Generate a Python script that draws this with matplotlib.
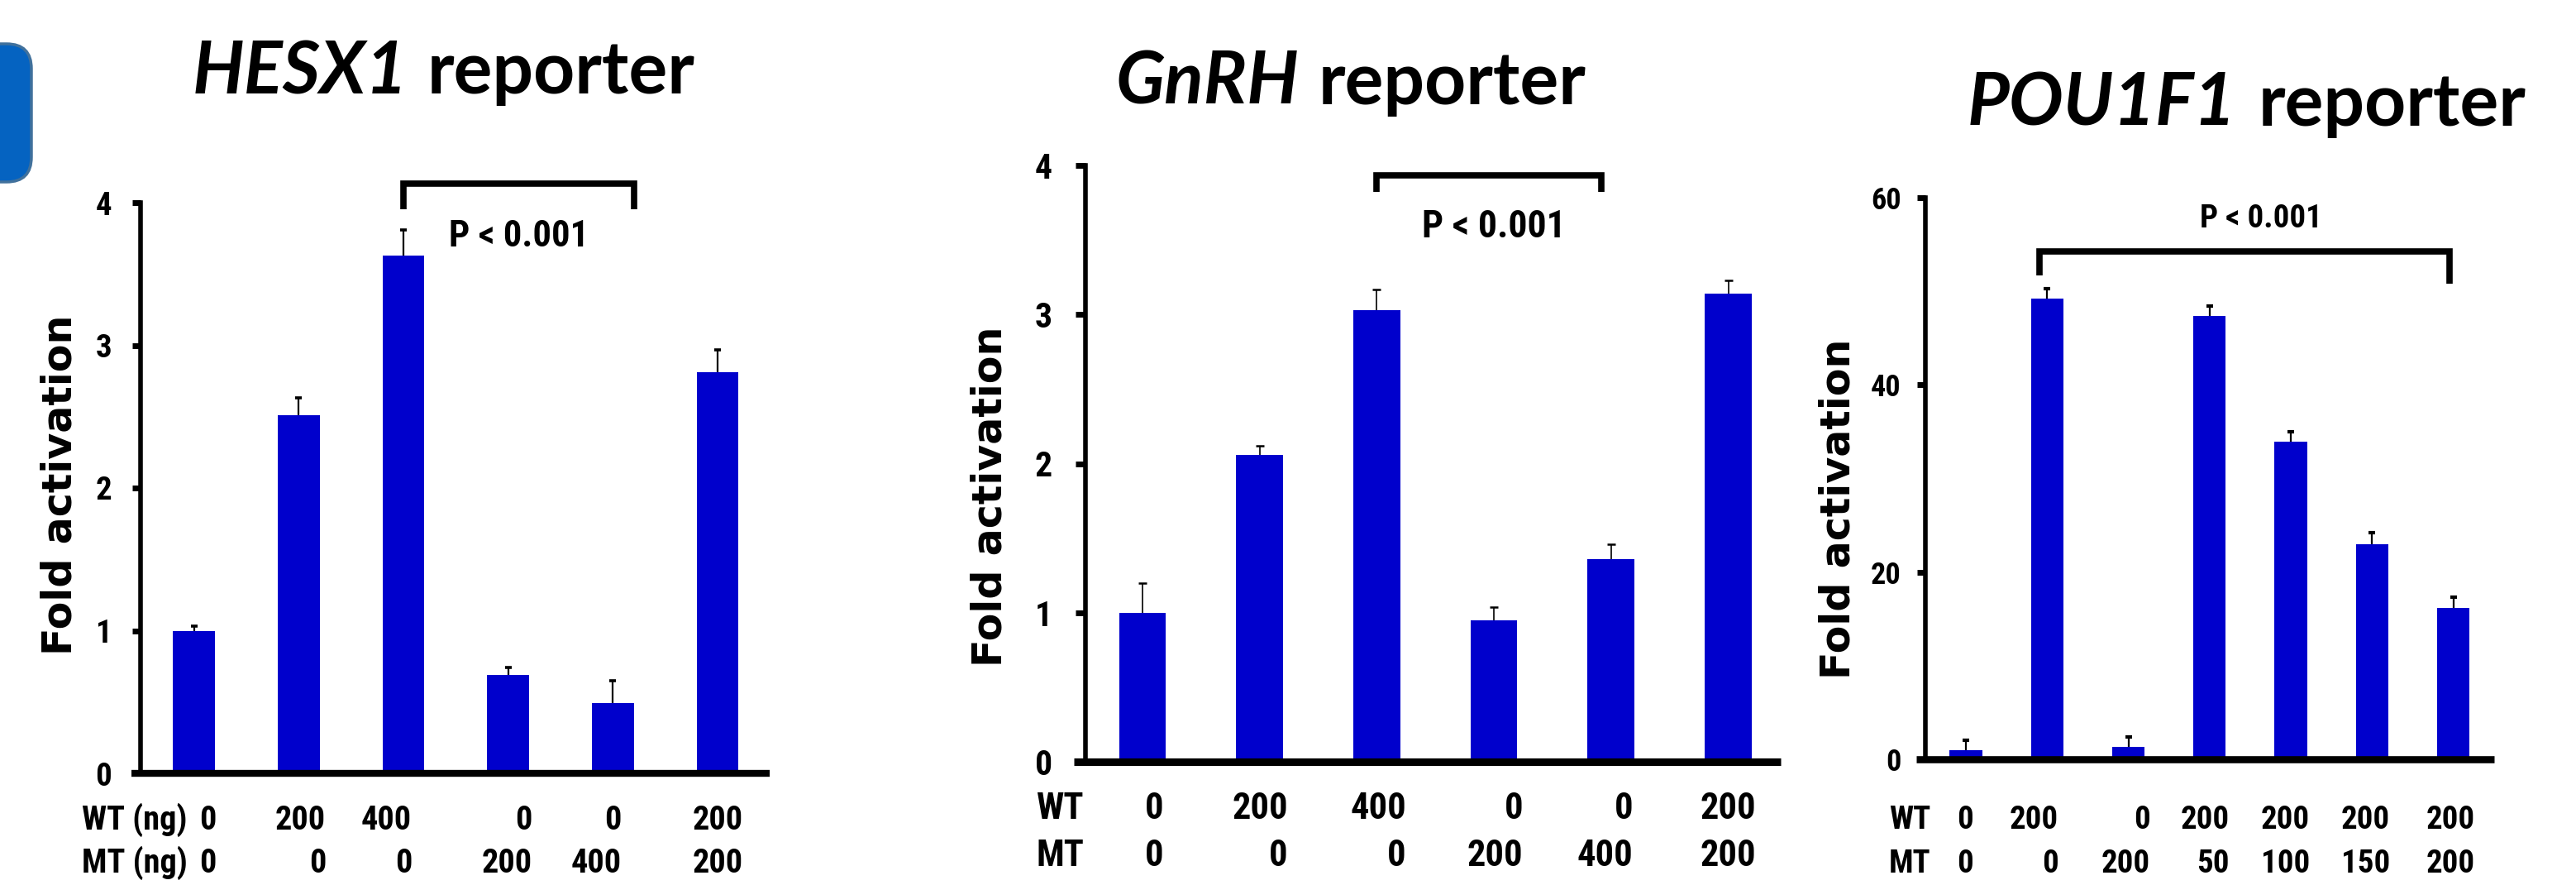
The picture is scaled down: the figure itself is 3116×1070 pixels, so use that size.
import os
import matplotlib
matplotlib.use("Agg")
import numpy as np
import matplotlib.pyplot as plt
from matplotlib import font_manager as fm
from matplotlib.font_manager import FontProperties
from matplotlib.patches import FancyBboxPatch
from matplotlib.transforms import IdentityTransform, blended_transform_factory

# ---------------- data ----------------
hesx1_values = [1.00, 2.51, 3.63, 0.69, 0.49, 2.81]
hesx1_errors = [0.03, 0.12, 0.18, 0.05, 0.16, 0.16]
hesx1_wt = ["0", "200", "400", "0", "0", "200"]
hesx1_mt = ["0", "0", "0", "200", "400", "200"]

gnrh_values = [1.00, 2.06, 3.03, 0.95, 1.36, 3.14]
gnrh_errors = [0.20, 0.06, 0.14, 0.09, 0.10, 0.09]
gnrh_wt = ["0", "200", "400", "0", "0", "200"]
gnrh_mt = ["0", "0", "0", "200", "400", "200"]

pou1f1_values = [1.0, 49.2, 1.3, 47.4, 33.9, 23.0, 16.2]
pou1f1_errors = [1.0, 1.1, 1.1, 1.0, 1.1, 1.2, 1.1]
pou1f1_wt = ["0", "200", "0", "200", "200", "200", "200"]
pou1f1_mt = ["0", "0", "200", "50", "100", "150", "200"]

titles_italic = ["HESX1", "GnRH", "POU1F1"]
title_rest = "reporter"
ylabel = "Fold activation"
p_text = "P < 0.001"

# ---------------- setup ----------------
W, H = 3116, 1070
fig = plt.figure(figsize=(W / 100, H / 100), dpi=100)
fig.patch.set_facecolor("white")

files = {}
for f in fm.fontManager.ttflist:
    files.setdefault(os.path.basename(f.fname).lower(), f.fname)

narrow_prefs = [
    ("liberationsansnarrow-bold.ttf", 1.0),
    ("robotocondensed-bold.ttf", 1.0),
    ("notosans-condensedbold.ttf", 1.0),
    ("opensans-condensedbold.ttf", 1.0),
    ("notosans-semicondensedbold.ttf", 0.97),
    ("opensans-semicondensedbold.ttf", 0.97),
    ("liberationsans-bold.ttf", 0.93),
]
NARROW_FILE, NS = None, 0.93
for fname, sc in narrow_prefs:
    if fname in files:
        NARROW_FILE, NS = files[fname], sc
        break


def nfp(size):
    if NARROW_FILE:
        return FontProperties(fname=NARROW_FILE, size=size * NS)
    return FontProperties(family="Liberation Sans", weight="bold", size=size * NS)


installed = {f.name for f in fm.fontManager.ttflist}
YLAB_FAM = ["DejaVu Sans Condensed", "DejaVu Sans"] if "DejaVu Sans Condensed" in installed else ["DejaVu Sans"]
TITLE_FAM = ["Lato", "DejaVu Sans"] if "Lato" in installed else ["DejaVu Sans"]

BLUE = "#0000cc"


def fx(px):
    return px / W


def fy(py):
    return 1 - py / H


# blue rounded tab at the left edge
tab = FancyBboxPatch((-120, H - 220), 158, 167,
                     boxstyle="round,pad=0,rounding_size=30",
                     transform=IdentityTransform(), facecolor="#0563c1",
                     edgecolor="#41719c", linewidth=2.5)
fig.add_artist(tab)

panels = [
    dict(values=hesx1_values, errors=hesx1_errors, wt=hesx1_wt, mt=hesx1_mt,
         wt_name="WT (ng)", mt_name="MT (ng)",
         L=170, T=245, R=931, B=935, c0=234.5, sp=126.7, line_start=159,
         ylim=(0, 4), yticks=[0, 1, 2, 3, 4],
         tick_len=7, tick_pad=18, tick_size=28,
         xline_lw=6.0, spine_lw=4.0,
         elw=1.6, cap_ms=6, cap_mew=2.6,
         lab_dx=[0.21, 0.26, 0.08, 0.23, 0.08, 0.245],
         lab_left=99, row_base=(1003, 1055), lab_size=29,
         br=(2.0, 4.20, 4.133, 3.954, 3.954),
         p_xy=(3.106, 3.69), p_size=32,
         title_split=(493, 517), title_base=113,
         ylab_xy=(73, 586)),
    dict(values=gnrh_values, errors=gnrh_errors, wt=gnrh_wt, mt=gnrh_mt,
         wt_name="WT", mt_name="MT",
         L=1313, T=200, R=2154, B=921, c0=1382, sp=141.7, line_start=1299,
         ylim=(0, 4), yticks=[0, 1, 2, 3, 4],
         tick_len=9, tick_pad=20, tick_size=30,
         xline_lw=6.6, spine_lw=4.0,
         elw=1.2, cap_ms=7, cap_mew=1.8,
         lab_dx=[0.18, 0.24, 0.25, 0.25, 0.185, 0.235],
         lab_left=1253, row_base=(990, 1047), lab_size=32,
         br=(2.0, 3.92, 3.933, 3.822, 3.822),
         p_xy=(3.0, 3.52), p_size=33,
         title_split=(1571, 1595), title_base=126,
         ylab_xy=(1197, 600)),
    dict(values=pou1f1_values, errors=pou1f1_errors, wt=pou1f1_wt, mt=pou1f1_mt,
         wt_name="WT", mt_name="MT",
         L=2329, T=239, R=3017, B=918, c0=2378, sp=98.25, line_start=2318,
         ylim=(0, 60), yticks=[0, 20, 40, 60],
         tick_len=7, tick_pad=14, tick_size=26,
         xline_lw=6.2, spine_lw=4.0,
         elw=1.6, cap_ms=6, cap_mew=3.0,
         lab_dx=[0.09, 0.14, 0.265, 0.245, 0.235, 0.22, 0.27],
         lab_left=2285, row_base=(1002, 1055), lab_size=28,
         br=(0.906, 5.95, 54.25, 51.7, 50.8),
         p_xy=(3.63, 56.8), p_size=28,
         title_split=(2705, 2732), title_base=152,
         ylab_xy=(2224, 615)),
]

renderer = fig.canvas.get_renderer()

for i, p in enumerate(panels):
    L, T, R, B = p["L"], p["T"], p["R"], p["B"]
    ax = fig.add_axes([fx(L), fy(B), fx(R - L), (B - T) / H])
    n = len(p["values"])
    x = np.arange(n)
    vals = np.array(p["values"])
    errs = np.array(p["errors"])

    ax.bar(x, vals, width=0.4, color=BLUE, zorder=1)
    tops = vals + errs
    ax.vlines(x, vals, tops, colors="black", lw=p["elw"], zorder=3)
    ax.plot(x, tops, ls="none", marker="_", ms=p["cap_ms"], mew=p["cap_mew"],
            color="black", zorder=3)

    xl = -(p["c0"] - L) / p["sp"]
    xr = (R - p["c0"]) / p["sp"]
    ax.set_xlim(xl, xr)
    ax.set_ylim(*p["ylim"])
    ax.set_xticks([])
    ax.set_yticks(p["yticks"])
    ax.set_yticklabels([str(t) for t in p["yticks"]])
    for lbl in ax.get_yticklabels():
        lbl.set_fontproperties(nfp(p["tick_size"]))
    ax.tick_params(axis="y", length=p["tick_len"], width=5, pad=p["tick_pad"],
                   direction="out", colors="black")
    for s in ["top", "right", "bottom"]:
        ax.spines[s].set_visible(False)
    ax.spines["left"].set_linewidth(p["spine_lw"])
    ax.patch.set_alpha(0)

    # thick x-axis line
    xmin_ax = -(L - p["line_start"]) / (R - L)
    ax.axhline(0, xmin=xmin_ax, xmax=1, color="black", lw=p["xline_lw"],
               clip_on=False, solid_capstyle="butt", zorder=4)

    # significance bracket
    bx1, bx2, byt, byl, byr = p["br"]
    ax.plot([bx1, bx1, bx2, bx2], [byl, byt, byt, byr], color="black", lw=5.5,
            clip_on=False, solid_joinstyle="miter", solid_capstyle="butt", zorder=5)
    ax.text(p["p_xy"][0], p["p_xy"][1], p_text, ha="center", va="baseline",
            fontproperties=nfp(p["p_size"]))

    # condition labels under the bars
    trans = blended_transform_factory(ax.transData, fig.transFigure)
    rb1, rb2 = p["row_base"]
    fig.text(fx(p["lab_left"]), fy(rb1), p["wt_name"], ha="left", va="baseline",
             fontproperties=nfp(p["lab_size"]))
    fig.text(fx(p["lab_left"]), fy(rb2), p["mt_name"], ha="left", va="baseline",
             fontproperties=nfp(p["lab_size"]))
    for k in range(n):
        xr_k = x[k] + p["lab_dx"][k]
        ax.text(xr_k, fy(rb1), p["wt"][k], transform=trans, ha="right", va="baseline",
                fontproperties=nfp(p["lab_size"]))
        ax.text(xr_k, fy(rb2), p["mt"][k], transform=trans, ha="right", va="baseline",
                fontproperties=nfp(p["lab_size"]))

    # y label, fitted to the reference length
    yl = fig.text(fx(p["ylab_xy"][0]), fy(p["ylab_xy"][1]), ylabel, rotation=90,
                  ha="center", va="center", fontsize=34, fontweight="bold",
                  family=YLAB_FAM)
    bb = yl.get_window_extent(renderer)
    yl.set_fontsize(34 * 412 / bb.height)

    # title: italic gene name + regular word
    s1, s2 = p["title_split"]
    fig.text(fx(s1), fy(p["title_base"]), titles_italic[i], ha="right", va="baseline",
             fontsize=63, fontweight="bold", fontstyle="italic", family=TITLE_FAM)
    fig.text(fx(s2), fy(p["title_base"]), title_rest, ha="left", va="baseline",
             fontsize=63, fontweight="bold", family=TITLE_FAM)

fig.savefig("out.png", dpi=100, facecolor="white")
